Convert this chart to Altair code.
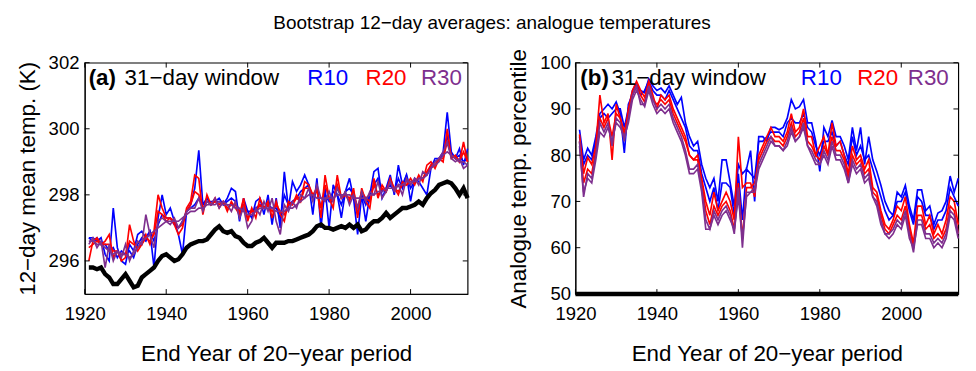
import altair as alt
import pandas as pd

years = list(range(1921, 2015))

# ---------- panel (a): 12-day mean temperature (K) ----------
a_blue1 = [296.7, 296.7, 296.6, 296.7, 296.2, 296.0, 297.6, 296.4, 296.0, 295.9,
           296.5, 296.3, 296.8, 296.9, 296.7, 296.9, 295.8, 297.3, 298.0, 297.4,
           297.6, 297.2, 296.8, 296.2, 297.5, 297.7, 298.2, 299.35, 297.7, 297.9,
           297.7, 297.8, 297.9, 297.7, 297.9, 298.2, 298.1, 297.2, 297.9, 297.5,
           297.3, 297.8, 297.9, 297.4, 298.0, 297.1, 297.9, 297.0, 298.7, 297.6,
           298.4, 298.1, 298.3, 298.6, 298.3, 297.4, 298.5, 297.0, 298.2, 297.0,
           298.3, 298.0, 297.3, 298.1, 298.5, 297.9, 296.8, 298.0, 297.2, 298.0,
           298.7, 298.8, 297.9, 298.2, 298.6, 298.0, 298.9, 298.3, 298.6, 297.8,
           298.5, 298.4, 298.2, 298.0, 298.8, 299.1, 299.1, 299.3, 300.5, 299.3,
           299.1, 299.4, 298.9, 299.4]
a_blue2 = [296.7, 296.6, 296.7, 296.5, 296.5, 296.3, 296.4, 296.1, 296.3, 296.2,
           296.3, 296.1, 296.5, 296.7, 296.6, 296.9, 296.6, 297.1, 297.4, 297.3,
           297.3, 297.1, 297.0, 297.2, 297.5, 297.6, 297.7, 297.9, 297.7, 297.8,
           297.8, 297.8, 297.8, 297.7, 297.8, 297.9, 297.8, 297.5, 297.6, 297.5,
           297.5, 297.6, 297.7, 297.6, 297.7, 297.6, 297.6, 297.3, 298.0, 297.7,
           297.8, 297.9, 298.1, 298.2, 298.3, 297.9, 298.2, 297.6, 298.0, 297.8,
           298.1, 298.0, 297.7, 298.1, 298.2, 298.0, 297.4, 298.0, 297.7, 298.0,
           298.3, 298.5, 298.1, 298.2, 298.3, 298.1, 298.5, 298.2, 298.6, 298.2,
           298.4, 298.5, 298.5, 298.6, 298.9, 299.0, 299.1, 299.2, 299.8, 299.2,
           299.1, 299.2, 299.0, 299.1]
a_red1 = [296.0, 296.6, 296.7, 296.5, 296.6, 296.8, 296.1, 296.3, 296.0, 296.1,
          297.1, 296.6, 296.3, 296.5, 296.8, 296.5, 296.9, 298.0, 297.6, 297.3,
          297.3, 297.1, 296.8, 297.0, 297.6, 297.8, 298.6, 298.5, 297.4, 298.0,
          297.7, 297.9, 297.6, 297.8, 297.5, 297.8, 297.6, 297.4, 297.9, 297.2,
          297.6, 297.3, 297.9, 297.6, 297.8, 297.3, 297.8, 297.4, 297.2, 297.8,
          297.7, 298.0, 297.8, 298.4, 298.3, 298.0, 298.2, 297.3, 298.6, 297.9,
          297.6, 298.6, 297.9, 298.0, 297.8, 298.2, 297.3, 298.2, 297.8, 297.6,
          298.5, 297.9, 298.3, 298.1, 298.5, 298.2, 298.0, 298.4, 298.3, 298.5,
          298.3, 298.6, 298.4, 298.9, 299.0, 298.8, 299.1, 299.0, 300.0, 299.1,
          299.2, 299.0, 299.6, 299.0]
a_red2 = [296.4, 296.5, 296.6, 296.5, 296.5, 296.5, 296.3, 296.3, 296.2, 296.2,
          296.6, 296.5, 296.4, 296.5, 296.7, 296.6, 296.8, 297.5, 297.4, 297.2,
          297.3, 297.2, 297.0, 297.1, 297.5, 297.7, 298.1, 298.0, 297.6, 297.8,
          297.7, 297.8, 297.7, 297.8, 297.6, 297.7, 297.7, 297.5, 297.7, 297.3,
          297.5, 297.5, 297.7, 297.6, 297.7, 297.5, 297.7, 297.5, 297.4, 297.7,
          297.7, 297.9, 297.8, 298.2, 298.2, 298.0, 298.1, 297.6, 298.3, 297.9,
          297.8, 298.3, 297.9, 298.0, 297.9, 298.1, 297.6, 298.1, 297.9, 297.8,
          298.3, 298.0, 298.2, 298.1, 298.4, 298.2, 298.1, 298.3, 298.3, 298.4,
          298.4, 298.5, 298.5, 298.7, 298.9, 298.9, 299.1, 299.1, 299.6, 299.2,
          299.1, 299.0, 299.3, 299.0]
a_purple1 = [296.5, 296.7, 296.4, 296.6, 295.8, 296.5, 296.0, 296.3, 296.1, 296.5,
             296.0, 296.3, 296.6, 296.5, 297.4, 296.8, 296.4, 297.2, 297.3, 297.2,
             297.1, 297.3, 297.0, 297.2, 297.5, 297.6, 297.6, 297.9, 297.5, 297.8,
             297.7, 297.9, 297.6, 297.8, 297.7, 297.5, 297.8, 297.3, 297.6, 297.0,
             297.2, 297.6, 297.4, 297.8, 297.5, 297.9, 297.2, 296.8, 297.7, 297.5,
             297.8, 297.6, 298.0, 297.9, 298.2, 297.8, 298.3, 297.9, 297.8, 298.1,
             297.8, 298.2, 297.9, 298.1, 297.7, 298.0, 297.6, 298.1, 297.8, 298.1,
             298.0, 298.4, 297.9, 298.1, 298.4, 298.1, 298.3, 298.0, 298.5, 298.3,
             298.5, 298.3, 298.7, 298.6, 298.8, 299.0, 299.1, 299.3, 299.6, 299.1,
             299.0, 299.1, 298.8, 298.9]
a_purple2 = [296.6, 296.6, 296.5, 296.5, 296.4, 296.3, 296.2, 296.3, 296.2, 296.2,
             296.1, 296.2, 296.4, 296.6, 296.7, 296.8, 296.9, 297.0, 297.1, 297.2,
             297.2, 297.2, 297.2, 297.3, 297.4, 297.5, 297.5, 297.6, 297.6, 297.7,
             297.7, 297.7, 297.8, 297.7, 297.7, 297.7, 297.6, 297.6, 297.5, 297.4,
             297.4, 297.5, 297.6, 297.6, 297.6, 297.6, 297.5, 297.5, 297.5, 297.6,
             297.6, 297.7, 297.8, 297.9, 298.0, 298.0, 297.9, 297.9, 297.9, 297.9,
             297.9, 298.0, 298.0, 298.0, 298.0, 297.9, 297.9, 297.9, 297.9, 298.0,
             298.0, 298.1, 298.1, 298.2, 298.2, 298.2, 298.3, 298.3, 298.4, 298.4,
             298.4, 298.5, 298.5, 298.6, 298.8, 298.9, 299.0, 299.2, 299.3, 299.2,
             299.1, 299.0, 299.0, 298.9]
a_black = [295.8, 295.8, 295.75, 295.8, 295.6, 295.5, 295.3, 295.3, 295.45, 295.6,
           295.4, 295.2, 295.25, 295.5, 295.6, 295.7, 295.8, 296.0, 296.15, 296.2,
           296.1, 296.0, 296.05, 296.2, 296.4, 296.5, 296.55, 296.6, 296.6, 296.65,
           296.8, 296.95, 297.05, 296.9, 296.85, 296.9, 296.75, 296.7, 296.55, 296.45,
           296.45, 296.55, 296.6, 296.7, 296.55, 296.4, 296.55, 296.55, 296.55, 296.6,
           296.6, 296.65, 296.7, 296.75, 296.8, 296.9, 297.05, 297.1, 297.0, 297.0,
           296.95, 297.0, 297.05, 297.0, 297.1, 297.0, 297.1, 296.9, 296.95, 297.1,
           297.2, 297.2, 297.3, 297.45, 297.3, 297.4, 297.5, 297.6, 297.6, 297.65,
           297.7, 297.8, 297.7, 297.9, 298.05, 298.15, 298.3, 298.35, 298.4, 298.35,
           298.2, 298.0, 298.2, 297.9]

# ---------- panel (b): analogue temperature percentile ----------
b_blue1 = [85.5, 79, 81.5, 80, 84, 89, 90, 91, 90, 91.5,
           89, 80.5, 91, 93, 95, 94, 93.5, 96.5, 95, 94,
           94.5, 93.5, 95, 93, 91, 92.5, 87, 84, 82, 83,
           78, 75, 73, 75, 70, 79, 79, 74, 69, 78,
           76, 77, 81, 70, 84, 84, 83, 86, 86, 85.5,
           86, 88, 92, 90, 90.5, 92, 87, 87, 83, 76.5,
           86, 84, 87.5, 84, 84, 82, 79, 86, 81, 86,
           78, 84, 79, 76.5, 73.5, 70, 68, 67, 72, 71,
           73.5, 69, 66, 72.5, 72.5, 68, 69, 65, 67.5, 68,
           70, 75.5, 72, 75]
b_blue2 = [84, 78, 80, 79, 83, 88, 89, 88, 89, 90,
           90, 86, 90, 94, 95.5, 93, 94, 96, 94, 93,
           93, 92, 94, 92, 90, 88, 86, 82, 81, 81,
           76, 73, 70, 73, 68, 74, 74, 73, 67, 76,
           66, 77, 76, 75, 83, 83, 84, 85, 85, 85,
           84, 87, 88, 87, 87, 89, 86, 85, 82, 80,
           83, 83, 85, 82, 83, 80, 78, 84, 80, 82,
           79, 80, 77, 74, 71, 68, 66, 67, 70, 70,
           72, 68, 65, 71, 70, 67, 67, 64, 66, 66,
           68, 73, 71, 69]
b_red1 = [84.5, 76, 79.5, 78, 82, 93, 87, 89, 79, 91,
          88, 84, 90, 94, 96, 94, 92.5, 96, 93, 90,
          93, 92, 93, 90, 88, 86, 84, 80, 79, 80,
          75, 70, 67, 72, 68, 70, 72, 70, 66, 84,
          73, 74, 74, 71, 80, 82, 84, 86, 84, 84,
          83, 85, 89, 85, 86, 90, 84, 84, 80, 82,
          84, 80, 87, 82, 83, 80, 76, 82, 79, 80,
          77, 79, 73, 72, 68, 65, 64, 66, 69, 68,
          71, 65, 61, 69, 69, 65, 67, 63, 65, 63,
          66, 71, 70, 65]
b_red2 = [83, 74, 77, 76, 81, 88, 86, 88, 84, 89,
          88, 85, 89, 93, 95, 93, 91.5, 95, 92, 91,
          92, 91, 92, 89, 87, 85, 83, 80, 79, 79,
          74, 68, 65, 69, 67, 69, 70, 68, 64, 74,
          62, 73, 73, 74, 79, 81, 83, 84, 83, 83,
          82, 84, 87, 84, 85, 88, 83, 82, 80, 79,
          82, 80, 84, 81, 81, 79, 75, 80, 78, 79,
          76, 77, 72, 71, 67, 64, 63, 65, 67, 66,
          69, 64, 60, 67, 67, 64, 65, 62, 63, 62,
          64, 69, 68, 63]
b_purple1 = [83, 71, 76, 75, 80, 87, 85, 87, 82, 88,
             87, 83, 88, 93, 95, 91, 91, 95, 92, 90,
             91, 90, 91, 88, 86, 84, 81, 77, 77, 78,
             73, 66, 64, 68, 66, 68, 69, 67, 63, 73,
             60, 72, 72, 73, 78, 80, 82, 84, 82, 82,
             81, 83, 86, 83, 84, 87, 82, 81, 79, 78,
             81, 79, 83, 80, 80, 78, 74, 79, 77, 78,
             75, 76, 71, 70, 66, 63, 63, 64, 66, 65,
             68, 63, 59, 66, 66, 63, 63, 61, 62, 61,
             63, 68, 67, 63]
b_purple2 = [82, 72, 75, 74, 79, 85, 84, 86, 83, 87,
             86, 84, 87, 92, 94, 92, 90.5, 94, 91, 89,
             90, 89, 90, 87, 85, 83, 80, 76, 76, 77,
             72, 64, 64, 67, 65, 67, 68, 66, 64, 71,
             62, 71, 72, 72, 77, 79, 81, 83, 82, 82,
             81, 82, 85, 83, 84, 86, 82, 80, 78, 78,
             80, 78, 82, 79, 79, 77, 74, 78, 76, 77,
             74, 75, 71, 69, 65, 63, 62, 63, 65, 64,
             67, 62, 60, 65, 65, 62, 62, 60, 61, 60,
             62, 67, 66, 62]
b_black_years = [1920, 2014]
b_black = [50, 50]

x_ticks = [1920, 1940, 1960, 1980, 2000]
a_yticks = [296, 298, 300, 302]
b_yticks = [50, 60, 70, 80, 90, 100]

BLUE, RED, PURPLE = "#0000FF", "#FF0000", "#7E2F8E"
FONT = "Liberation Sans"
W, H = 394, 238


def axis(values, title, lp, tp, tfs):
    return alt.Axis(values=values, format="d", title=title, ticks=False, labelFlush=False,
                    labelFont=FONT, titleFont=FONT, labelFontSize=19, titleFontSize=tfs,
                    titleFontWeight="normal", labelColor="black", titleColor="black",
                    domainColor="black", domainWidth=1, grid=False,
                    labelPadding=lp, titlePadding=tp)


def panel(series, black_x, black_y, ydom, yticks, ytitle, ypad, tag, labx):
    xs = alt.Scale(domain=[1920, 2014], nice=False, zero=False)
    ys = alt.Scale(domain=ydom, nice=False, zero=False)
    xenc = alt.X("year:Q", scale=xs, axis=axis(x_ticks, "End Year of 20−year period", 11, 20, 23))
    yenc = alt.Y("v:Q", scale=ys, axis=axis(yticks, ytitle, ypad[0], ypad[1], 23))
    layers = []
    for vals, col in series:
        df = pd.DataFrame({"year": years, "v": vals})
        layers.append(alt.Chart(df).mark_line(color=col, strokeWidth=1.7).encode(x=xenc, y=yenc))
    dfb = pd.DataFrame({"year": black_x, "v": black_y})
    layers.append(alt.Chart(dfb).mark_line(color="black", strokeWidth=4.5).encode(x=xenc, y=yenc))
    # inward ticks (MATLAB style)
    tx = pd.DataFrame({"year": x_ticks})
    ty = pd.DataFrame({"v": yticks})
    layers.append(alt.Chart(tx).mark_rule(color="black").encode(x=xenc, y=alt.value(0), y2=alt.value(5)))
    layers.append(alt.Chart(tx).mark_rule(color="black").encode(x=xenc, y=alt.value(H), y2=alt.value(H - 5)))
    layers.append(alt.Chart(ty).mark_rule(color="black").encode(y=yenc, x=alt.value(0), x2=alt.value(5)))
    layers.append(alt.Chart(ty).mark_rule(color="black").encode(y=yenc, x=alt.value(W), x2=alt.value(W - 5)))
    # in-panel labels
    one = pd.DataFrame({"k": [0]})
    texts = [(tag, "black", "bold", labx[0]), ("31−day window", "black", "normal", labx[1]),
             ("R10", BLUE, "normal", labx[2]), ("R20", RED, "normal", labx[3]),
             ("R30", PURPLE, "normal", labx[4])]
    for t, c, fw, px in texts:
        layers.append(alt.Chart(one).mark_text(text=t, color=c, fontWeight=fw, font=FONT, fontSize=23,
                                               align="left", baseline="middle")
                      .encode(x=alt.value(px), y=alt.value(16)))
    return alt.layer(*layers).properties(width=W, height=H)


pa = panel([(a_blue1, BLUE), (a_blue2, BLUE), (a_red1, RED), (a_red2, RED),
            (a_purple1, PURPLE), (a_purple2, PURPLE)],
           years, a_black, [295, 302], a_yticks, "12−day mean temp. (K)", (6, 9), "(a)",
           [4, 41, 229, 289, 346])
pb = panel([(b_blue1, BLUE), (b_blue2, BLUE), (b_red1, RED), (b_red2, RED),
            (b_purple1, PURPLE), (b_purple2, PURPLE)],
           b_black_years, b_black, [50, 100], b_yticks, "Analogue temp. percentile", (5, 10), "(b)",
           [5, 37, 232, 290, 342])

chart = alt.hconcat(pa, pb, spacing=30).properties(
    background="white",
    padding={"left": 8, "top": 0, "right": 0, "bottom": 0},
    title=alt.TitleParams("Bootstrap 12−day averages: analogue temperatures", font=FONT,
                          fontSize=19.5, fontWeight="normal", anchor="middle", color="black", offset=15)
).configure_view(stroke="black", strokeWidth=1.2)

chart.save("out.html", embed_options={"renderer": "svg", "actions": False})
